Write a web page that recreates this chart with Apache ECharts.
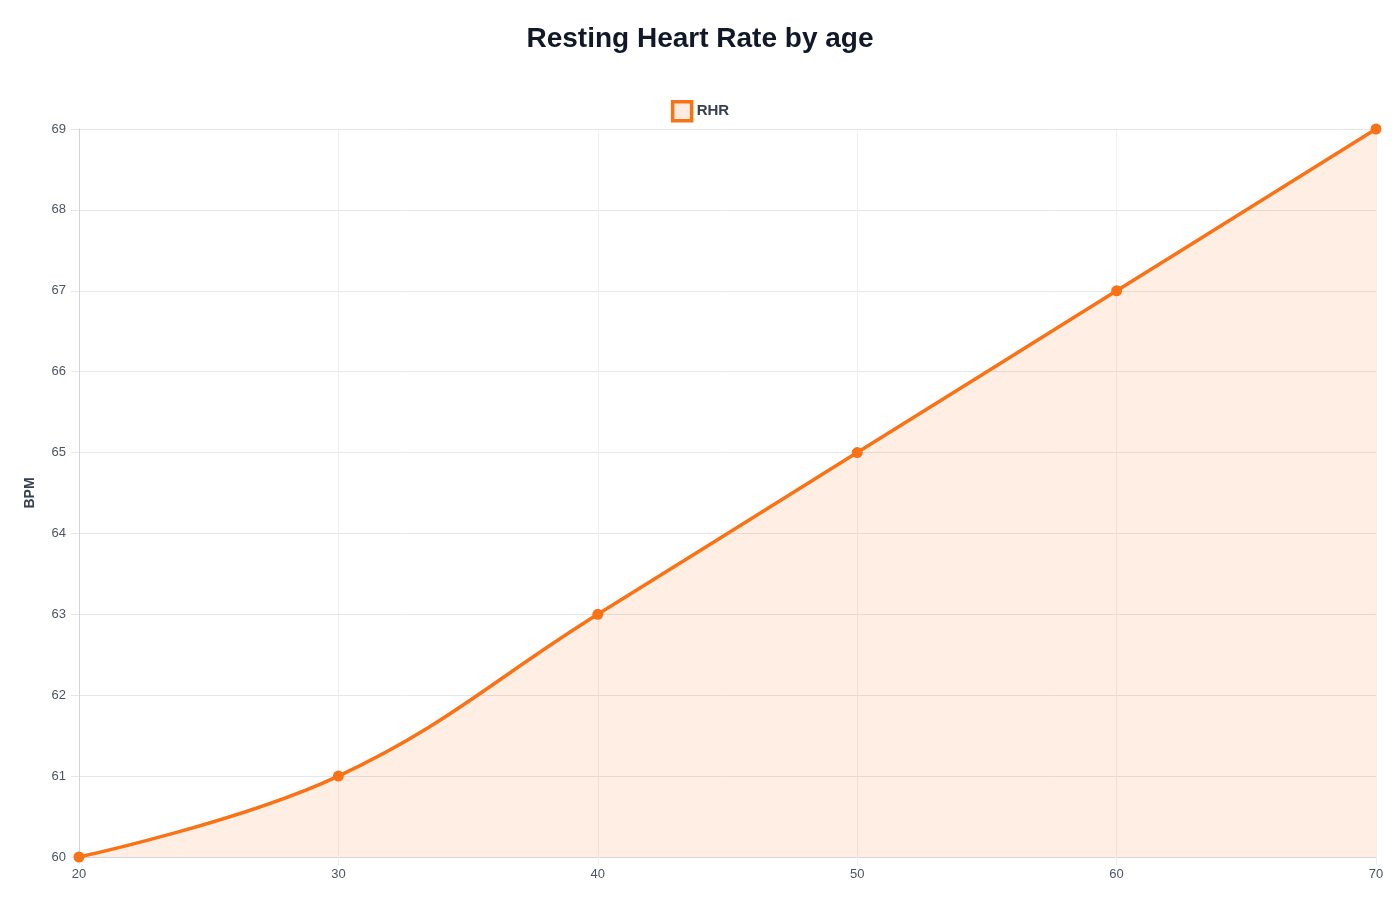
<!DOCTYPE html>
<html>
<head>
<meta charset="utf-8">
<script src="https://cdn.jsdelivr.net/npm/echarts@6/dist/echarts.min.js"></script>
<style>html,body{margin:0;padding:0;background:#fff}#c{width:1400px;height:900px}</style>
</head>
<body>
<div id="c"></div>
<script>
const ages = [20, 30, 40, 50, 60, 70];
const rhr = [60, 61, 63, 65, 67, 69];
const seriesName = 'RHR';
const titleText = 'Resting Heart Rate by age';
const yName = 'BPM';

const chart = echarts.init(document.getElementById('c'));
const font = '"Liberation Sans", Arial, Helvetica, sans-serif';
chart.setOption({
  animation: false,
  title: {
    text: titleText, left: 'center', top: 20,
    textStyle: { fontFamily: font, fontSize: 28, fontWeight: 'bold', color: '#111827' }
  },
  legend: {
    top: 95, left: 'center',
    itemWidth: 19, itemHeight: 19, itemGap: 8,
    icon: 'rect',
    textStyle: { fontFamily: font, fontSize: 15, fontWeight: 'bold', color: '#374151' },
    data: [{ name: seriesName, itemStyle: { color: '#feece1', borderColor: '#f97316', borderWidth: 3.5 } }]
  },
  grid: { left: 79, right: 24, top: 129, bottom: 43, containLabel: false },
  xAxis: {
    type: 'value', min: 20, max: 70, interval: 10,
    axisLine: { show: true, lineStyle: { color: '#d1d5db' } },
    axisTick: { show: true, length: 8, lineStyle: { color: '#eeeeee' } },
    splitLine: { show: true, lineStyle: { color: '#eeeeee' } },
    axisLabel: { fontFamily: font, fontSize: 13, color: '#4b5563', margin: 11 }
  },
  yAxis: {
    type: 'value', min: 60, max: 69, interval: 1,
    name: yName, nameLocation: 'middle', nameGap: 42,
    nameTextStyle: { fontFamily: font, fontSize: 14, fontWeight: 'bold', color: '#374151' },
    axisLine: { show: true, lineStyle: { color: '#d1d5db' } },
    axisTick: { show: true, length: 8, lineStyle: { color: '#e5e7eb' } },
    splitLine: { show: true, lineStyle: { color: '#e5e7eb' } },
    axisLabel: { fontFamily: font, fontSize: 13, color: '#4b5563', margin: 13 }
  },
  series: [{
    name: seriesName, type: 'line',
    data: ages.map((a, i) => [a, rhr[i]]),
    smooth: 0.4,
    symbol: 'circle', symbolSize: 11,
    lineStyle: { color: '#f97316', width: 3.5 },
    itemStyle: { color: '#f97316' },
    areaStyle: { color: 'rgba(249,115,22,0.12)', opacity: 1 },
    clip: false
  }]
});
</script>
</body>
</html>
